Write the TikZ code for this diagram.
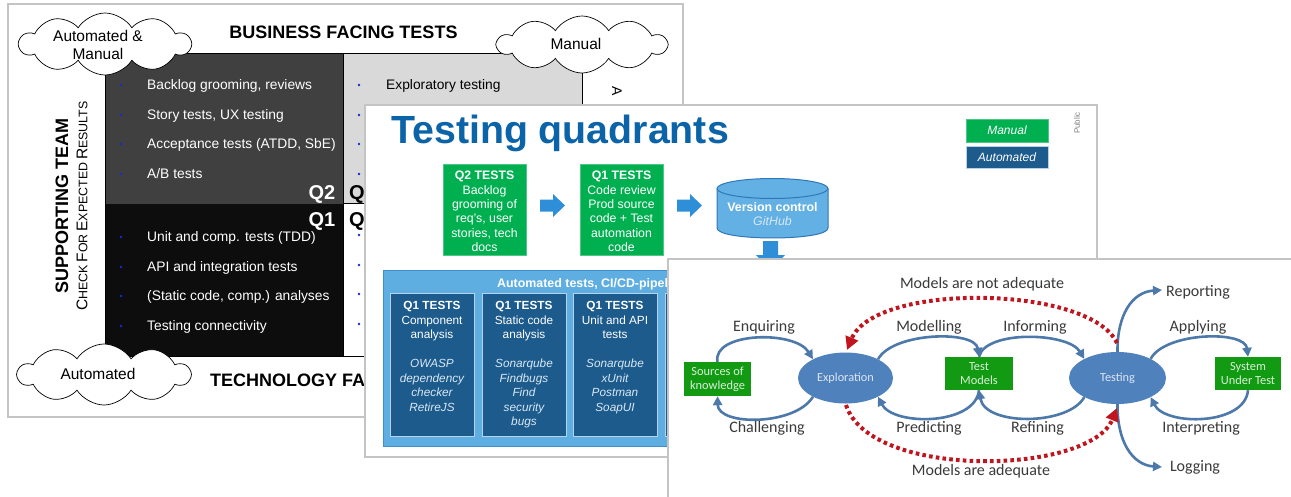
\documentclass[tikz,border=0pt]{standalone}
\usepackage{fontspec}
\usepackage{graphicx}
\setmainfont{Liberation Sans}
\newfontfamily\calib{Carlito}
\usetikzlibrary{shapes.symbols,shapes.geometric,arrows.meta}
\definecolor{slidegray}{HTML}{C4C4C4}
\definecolor{q2c}{HTML}{404040}
\definecolor{q1c}{HTML}{0D0D0D}
\definecolor{q3c}{HTML}{D9D9D9}
\definecolor{bulblue}{HTML}{1030C8}
\definecolor{titleblue}{HTML}{0B63A8}
\definecolor{mgreen}{HTML}{00B050}
\definecolor{dblue}{HTML}{1D5B8C}
\definecolor{contfill}{HTML}{5EAEE2}
\definecolor{contborder}{HTML}{3D8FD0}
\definecolor{iborder}{HTML}{B5D3EE}
\definecolor{arrowblue}{HTML}{2E8FD8}
\definecolor{cylborder}{HTML}{3177B8}
\definecolor{cylfill}{HTML}{62B0E4}
\definecolor{lightit}{HTML}{D8E8F5}
\definecolor{sgreen}{HTML}{139A13}
\definecolor{sgtext}{HTML}{D8F0D8}
\definecolor{ellfill}{HTML}{4F81BD}
\definecolor{elltext}{HTML}{DCE6F2}
\definecolor{loopc}{HTML}{4D78AA}
\definecolor{redc}{HTML}{C0141E}
\definecolor{s3text}{HTML}{3A3A3A}
\newcommand\fs[2]{\fontsize{#1}{#2}\selectfont}
\newcommand\sca[2]{{\fs{15.5}{16}#1}{\fs{12.4}{16}#2}}
\newcommand\itl[1]{\textcolor{lightit}{\itshape #1}}
\begin{document}
\begin{tikzpicture}[x=1pt,y=-1pt,
  slide/.style={draw=slidegray, line width=1.2pt, fill=white},
  itemw/.style={anchor=base west, inner sep=0pt, font=\fs{13.8}{16}, text=white},
  itemb/.style={anchor=base west, inner sep=0pt, font=\fs{13.8}{16}, text=black},
  bul/.style={circle, fill=bulblue, inner sep=0pt, minimum size=2.6pt},
  cloudnode/.style={cloud, cloud puffs=10, cloud puff arc=115, aspect=2.7, draw=black, line width=0.7pt, fill=white, inner sep=0pt},
  cloudtxt/.style={align=center, font=\fs{15.5}{18}, inner sep=0pt},
  bigtitle/.style={font=\fs{18}{20}\bfseries, inner sep=0pt},
  qlab/.style={font=\fs{20}{20}\bfseries, inner sep=0pt},
  gbox/.style={fill=mgreen, draw=mgreen!70!white, line width=0.6pt, text=white, align=center, inner sep=0pt},
  dbox/.style={fill=dblue, draw=iborder, line width=0.6pt, text=white, align=center, inner sep=0pt},
  ibox/.style={fill=dblue, draw=iborder, line width=1pt, anchor=north west, minimum width=84, minimum height=143, inner sep=0pt},
  itext/.style={anchor=north, align=center, text=white, font=\fs{11.8}{14.5}, inner sep=0pt},
  s3box/.style={fill=sgreen, text=sgtext, align=center, font=\calib\fs{12.4}{14}, inner sep=0pt},
  s3ell/.style={ellipse, fill=ellfill, text=elltext, font=\calib\fs{12.3}{14}, inner sep=0pt},
  s3lab/.style={font=\calib\fs{16}{18}, text=s3text, inner sep=0pt},
  looparrow/.style={draw=loopc, line width=2.6pt, -{Triangle[length=9pt,width=9pt]}},
  redarrow/.style={draw=redc, line width=4pt, dash pattern=on 3.6pt off 3.2pt, -{Triangle[length=13pt,width=13pt]}}
]
\useasboundingbox (0,0) rectangle (1291,496);
\fill[white] (0,0) rectangle (1291,496);

% ================= Slide 1 =================
\draw[slide] (8,4) rectangle (683,417);
\fill[q2c] (105,53) rectangle (343.5,203.5);
\fill[q1c] (105,203.5) rectangle (343.5,356);
\fill[q3c] (343.5,53) rectangle (582,203.5);
\draw[black, line width=0.8pt] (105,53) rectangle (582,356);
\draw[black, line width=0.8pt] (343.5,53) -- (343.5,356);
\draw[black, line width=0.8pt] (343.5,203.5) -- (582,203.5);

\node[bigtitle] (bft) at (343.5,32) {BUSINESS FACING TESTS};
\node[bigtitle, anchor=west] (tft) at (210,380) {TECHNOLOGY FACING TESTS};
\node[bigtitle, rotate=90] (stm) at (62,206) {SUPPORTING TEAM};
\node[rotate=90, inner sep=0pt] (cfr) at (82,206) {\sca{C}{HECK} \sca{F}{OR} \sca{E}{XPECTED} \sca{R}{ESULTS}};
\node[rotate=-90, anchor=west, font=\fs{14}{14}, inner sep=0pt] (ra) at (617,86) {A};

% Q2 items
\node[bul] (b21) at (121,85) {};
\node[bul] (b22) at (121,115) {};
\node[bul] (b23) at (121,144) {};
\node[bul] (b24) at (121,174) {};
\node[itemw] (i21) at (147,89.5) {Backlog grooming, reviews};
\node[itemw] (i22) at (147,119.5) {Story tests, UX testing};
\node[itemw] (i23) at (147,148.5) {Acceptance tests (ATDD, SbE)};
\node[itemw] (i24) at (147,178.5) {A/B tests};
% Q1 items
\node[bul] (b11) at (121,237) {};
\node[bul] (b12) at (121,267) {};
\node[bul] (b13) at (121,296) {};
\node[bul] (b14) at (121,326) {};
\node[itemw] (i11) at (147,241.5) {Unit and comp. tests (TDD)};
\node[itemw] (i12) at (147,271.5) {API and integration tests};
\node[itemw] (i13) at (147,300.5) {(Static code, comp.) analyses};
\node[itemw] (i14) at (147,330.5) {Testing connectivity};
% Q3 / Q4
\node[bul] (b31) at (359,85) {};
\node[bul] (b32) at (359,115) {};
\node[bul] (b33) at (359,144) {};
\node[bul] (b34) at (359,174) {};
\node[itemb] (i31) at (386,89.5) {Exploratory testing};
\node[bul] (b41) at (359,235) {};
\node[bul] (b42) at (359,265) {};
\node[bul] (b43) at (359,294) {};
\node[bul] (b44) at (359,324) {};

\node[qlab, text=white, anchor=base east] (lq2) at (335.5,199.5) {Q2};
\node[qlab, text=black, anchor=base west] (lq3) at (349,199.5) {Q};
\node[qlab, text=white, anchor=base east] (lq1) at (335.5,226) {Q1};
\node[qlab, text=black, anchor=base west] (lq4) at (349,226) {Q};

% clouds
\node[cloudnode, minimum width=171, minimum height=62] (c1) at (105,44) {};
\node[cloudtxt] (c1t) at (98,44.5) {Automated \&\\Manual};
\node[cloudnode, minimum width=169, minimum height=57] (c2) at (582,44.5) {};
\node[cloudtxt] (c2t) at (576,44) {Manual};
\node[cloudnode, minimum width=172, minimum height=61] (c3) at (104,374.5) {};
\node[cloudtxt] (c3t) at (98,374) {Automated};

% ================= Slide 2 =================
\draw[slide] (365,105) rectangle (1097,457);
\node[anchor=base west, font=\fs{39.3}{41}\bfseries, text=titleblue, inner sep=0pt] (ttl) at (391,143) {Testing quadrants};
\node[rotate=90, font=\fs{8}{8}, text=gray, inner sep=0pt] (pub) at (1077,123) {Public};
\node[gbox, minimum width=82, minimum height=23, font=\fs{12}{12}\itshape] (lm) at (1007,130.5) {Manual};
\node[dbox, minimum width=82, minimum height=22, font=\fs{12}{12}\itshape] (la) at (1007,157) {Automated};

\node[gbox, minimum width=83, minimum height=91] (q2b) at (484.5,209.5) {};
\node[align=center, text=white, font=\fs{12.3}{14.4}, inner sep=0pt] (q2t) at (484.5,211.5) {\textbf{Q2 TESTS}\\Backlog\\grooming of\\req's, user\\stories, tech\\docs};
\node[gbox, minimum width=83, minimum height=91] (q1b) at (621.5,209.5) {};
\node[align=center, text=white, font=\fs{12.3}{14.4}, inner sep=0pt] (q1t) at (621.5,211.5) {\textbf{Q1 TESTS}\\Code review\\Prod source\\code + Test\\automation\\code};
\fill[arrowblue] (540,199.5) -- (553,199.5) -- (553,194) -- (565,205.5) -- (553,217) -- (553,211.5) -- (540,211.5) -- cycle;
\fill[arrowblue] (677,199.5) -- (690,199.5) -- (690,194) -- (702,205.5) -- (690,217) -- (690,211.5) -- (677,211.5) -- cycle;

% cylinder
\path[fill=cylfill, draw=cylborder, line width=1pt] (717,188.5) -- (717,228) .. controls (717,241.3) and (828,241.3) .. (828,228) -- (828,188.5);
\node[ellipse, draw=cylborder, fill=cylfill, line width=1pt, minimum width=111, minimum height=20, inner sep=0pt] (cyltop) at (772.5,188.5) {};
\node[align=center, text=white, font=\fs{12.4}{14}, inner sep=0pt] (vc) at (772.5,214) {\textbf{Version control}\\\textcolor{lightit}{\itshape GitHub}};
\fill[arrowblue] (763,241) -- (778,241) -- (778,255) -- (785,255) -- (770.5,270) -- (756,255) -- (763,255) -- cycle;

% automated tests container
\node[draw=contborder, fill=contfill, line width=1pt, anchor=north west, minimum width=700, minimum height=176, inner sep=0pt] (cont) at (383,270) {};
\node[anchor=base west, text=white, font=\fs{12.4}{14}\bfseries, inner sep=0pt] (ctitle) at (497,287.5) {Automated tests, CI/CD-pipeline};
\node[ibox] (ib1) at (390,293) {};
\node[ibox] (ib2) at (482,293) {};
\node[ibox] (ib3) at (573,293) {};
\node[ibox] (ib4) at (665,293) {};
\node[itext] (t1) at (432,301.5) {\textbf{Q1 TESTS}\\Component\\analysis\\[14.5pt]\itl{OWASP}\\\itl{dependency}\\\itl{checker}\\\itl{RetireJS}};
\node[itext] (t2) at (524,301.5) {\textbf{Q1 TESTS}\\Static code\\analysis\\[14.5pt]\itl{Sonarqube}\\\itl{Findbugs}\\\itl{Find}\\\itl{security}\\\itl{bugs}};
\node[itext] (t3) at (615,301.5) {\textbf{Q1 TESTS}\\Unit and API\\tests\\[14.5pt]\itl{Sonarqube}\\\itl{xUnit}\\\itl{Postman}\\\itl{SoapUI}};

% ================= Slide 3 =================
\draw[slide] (668,259) rectangle (1300,505);
\node[s3box, minimum width=67, minimum height=34] (src) at (717.5,379) {Sources of\\knowledge};
\node[s3box, minimum width=68, minimum height=33] (tm) at (979,373.5) {Test\\Models};
\node[s3box, minimum width=66, minimum height=33] (sut) at (1248,373.5) {System\\Under Test};
\node[s3ell, minimum width=95, minimum height=51] (expl) at (845.5,378) {Exploration};
\node[s3ell, minimum width=97, minimum height=52] (test) at (1117.5,378) {Testing};

\draw[looparrow] (src.north) .. controls (712,332) and (795,330) .. (expl.150);
\draw[looparrow] (expl.210) .. controls (795,426) and (718,426) .. (src.south);
\draw[looparrow] (expl.30) .. controls (893,332) and (975,330) .. (tm.north);
\draw[looparrow] (tm.south) .. controls (975,426) and (893,426) .. (expl.330);
\draw[looparrow] (tm.north) .. controls (985,330) and (1068,332) .. (test.150);
\draw[looparrow] (test.210) .. controls (1068,426) and (985,426) .. (tm.south);
\draw[looparrow] (test.30) .. controls (1165,332) and (1245,330) .. (sut.north);
\draw[looparrow] (sut.south) .. controls (1245,426) and (1165,426) .. (test.330);

\coordinate (rep) at (1162,290);
\coordinate (logg) at (1162,467);
\draw[looparrow] (test.north) .. controls (1117,315) and (1132,292) .. (rep);
\draw[looparrow] (test.south) .. controls (1117,441) and (1132,465) .. (logg);

\coordinate (nas) at (1117,343);
\coordinate (nae) at (847,350);
\coordinate (as) at (846,405);
\coordinate (ae) at (1117,408);
\draw[redarrow] (nas) .. controls (1090,285) and (875,282) .. (nae);
\draw[redarrow] (as) .. controls (870,480) and (1090,475) .. (ae);

\node[s3lab] (lna) at (982,284) {Models are not adequate};
\node[s3lab] (lenq) at (764,327) {Enquiring};
\node[s3lab] (lmod) at (929,327) {Modelling};
\node[s3lab] (linf) at (1035,327) {Informing};
\node[s3lab] (lapp) at (1198,327) {Applying};
\node[s3lab] (lrep) at (1198,292) {Reporting};
\node[s3lab] (lcha) at (767,428) {Challenging};
\node[s3lab] (lpre) at (929,428) {Predicting};
\node[s3lab] (lref) at (1037.5,428) {Refining};
\node[s3lab] (lint) at (1201,428) {Interpreting};
\node[s3lab] (llog) at (1195,467) {Logging};
\node[s3lab] (la2) at (981,471) {Models are adequate};
\end{tikzpicture}
\end{document}
